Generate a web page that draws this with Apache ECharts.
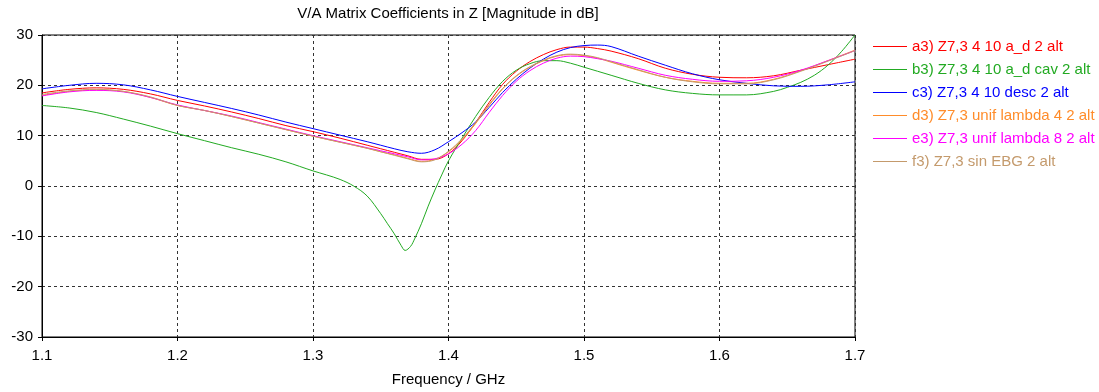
<!DOCTYPE html>
<html>
<head>
<meta charset="utf-8">
<title>V/A Matrix Coefficients in Z</title>
<script src="https://cdn.jsdelivr.net/npm/echarts@6/dist/echarts.min.js"></script>
<style>
  html, body { margin: 0; padding: 0; background: #fff; }
  #chart { width: 1099px; height: 392px; }
</style>
</head>
<body>
<div id="chart"></div>
<script>
// Frequency samples (GHz) shared by most traces
const freqs = [1.10, 1.12, 1.14, 1.16, 1.18, 1.20, 1.22, 1.24, 1.26, 1.28, 1.30, 1.32, 1.34, 1.35, 1.36, 1.37, 1.38, 1.39,
  1.40, 1.41, 1.42, 1.43, 1.44, 1.45, 1.46, 1.47, 1.48, 1.49, 1.50, 1.51, 1.52, 1.54, 1.56, 1.58, 1.60, 1.62, 1.64, 1.66, 1.68, 1.70];

// Finer sampling for the cavity trace with its sharp notch
const freqsCav = [1.10, 1.12, 1.14, 1.16, 1.18, 1.20, 1.22, 1.24, 1.26, 1.28, 1.30, 1.31, 1.32, 1.33, 1.34, 1.35, 1.355, 1.36,
  1.365, 1.368, 1.372, 1.375, 1.38, 1.385, 1.39, 1.395, 1.40, 1.41, 1.42, 1.43, 1.44, 1.45, 1.46, 1.47, 1.48, 1.49, 1.50,
  1.52, 1.54, 1.56, 1.58, 1.60, 1.62, 1.64, 1.65, 1.66, 1.67, 1.68, 1.69, 1.70];

// Magnitudes in dB
const a3 = [18.5, 19.2, 19.5, 19.2, 18.3, 17.0, 15.9, 14.7, 13.4, 12.0, 10.8, 9.5, 8.1, 7.4, 6.7, 6.0, 5.3, 5.3,
  6.4, 9.0, 12.6, 16.6, 20.2, 22.8, 24.7, 26.1, 27.1, 27.6, 27.6, 27.3, 26.8, 25.3, 23.4, 22.2, 21.6, 21.5, 21.9, 23.0, 24.1, 25.2];

const b3 = [16.0, 15.5, 14.6, 13.3, 11.9, 10.4, 9.0, 7.6, 6.3, 4.8, 3.0, 2.2, 1.3, 0.0, -2.0, -5.5, -7.5, -9.5,
  -11.8, -12.8, -12.0, -10.5, -7.5, -4.0, -0.8, 2.2, 5.0, 9.5, 13.8, 17.6, 20.8, 23.0, 24.3, 24.9, 24.9, 24.4, 23.6,
  22.0, 20.4, 19.1, 18.4, 18.1, 18.1, 18.8, 19.6, 20.6, 22.0, 24.0, 26.7, 30.0];

const c3 = [19.3, 20.0, 20.4, 20.1, 19.1, 17.8, 16.6, 15.4, 14.1, 12.7, 11.4, 10.1, 8.8, 8.1, 7.4, 6.8, 6.5, 7.2,
  8.8, 10.6, 12.7, 15.6, 18.6, 21.2, 23.4, 25.2, 26.6, 27.5, 27.9, 28.0, 27.7, 25.8, 24.0, 22.3, 21.1, 20.4, 19.9, 19.8, 20.1, 20.7];

const d3 = [18.0, 18.8, 19.1, 18.8, 17.6, 16.0, 15.0, 13.8, 12.5, 11.2, 9.9, 8.7, 7.5, 6.8, 6.2, 5.5, 4.9, 5.3,
  6.8, 9.2, 12.4, 16.0, 19.3, 21.8, 23.6, 24.9, 25.8, 26.1, 25.9, 25.4, 24.6, 23.0, 21.6, 20.8, 20.4, 20.4, 21.2, 22.9, 24.9, 27.0];

const e3 = [17.9, 18.7, 19.0, 18.7, 17.6, 16.1, 15.0, 13.9, 12.6, 11.3, 10.0, 8.8, 7.6, 7.0, 6.4, 5.8, 5.2, 5.4,
  6.4, 8.3, 11.0, 14.6, 18.0, 20.8, 22.9, 24.4, 25.4, 25.8, 25.7, 25.3, 24.8, 23.4, 22.0, 21.2, 20.8, 20.9, 21.6, 23.0, 24.9, 26.9];

const f3 = [18.2, 18.9, 19.2, 18.8, 17.7, 16.0, 15.0, 13.8, 12.5, 11.2, 9.9, 8.7, 7.5, 6.8, 6.1, 5.4, 4.8, 5.2,
  6.9, 9.4, 12.6, 16.2, 19.4, 21.9, 23.7, 25.0, 25.9, 26.2, 26.0, 25.5, 24.7, 23.1, 21.6, 20.7, 20.3, 20.3, 21.1, 22.8, 24.8, 26.9];

const seriesNames = [
  'a3) Z7,3 4 10 a_d 2 alt',
  'b3) Z7,3 4 10 a_d cav 2 alt',
  'c3) Z7,3 4 10 desc 2 alt',
  'd3) Z7,3 unif lambda 4 2 alt',
  'e3) Z7,3 unif lambda 8 2 alt',
  'f3) Z7,3 sin EBG 2 alt'
];
const seriesColors = ['#ff0000', '#22aa22', '#0000ff', '#ff8c2a', '#ff00ff', '#c49a6c'];
const seriesData = [
  [freqs, a3], [freqsCav, b3], [freqs, c3], [freqs, d3], [freqs, e3], [freqs, f3]
];

const FONT = 'Liberation Sans, Arial, sans-serif';
const FS = 15;

const chart = echarts.init(document.getElementById('chart'), null, { renderer: 'canvas' });

const series = seriesNames.map((name, i) => ({
  name: name,
  type: 'line',
  data: seriesData[i][0].map((f, k) => [f, seriesData[i][1][k]]),
  showSymbol: false,
  smooth: 0.35,
  lineStyle: { width: 1, color: seriesColors[i] },
  itemStyle: { color: seriesColors[i] },
  emphasis: { disabled: true },
  animation: false,
  z: 2 + i
}));

chart.setOption({
  animation: false,
  backgroundColor: '#ffffff',
  title: {
    text: 'V/A Matrix Coefficients in Z [Magnitude in dB]',
    left: 448,
    top: 6,
    padding: 0,
    textAlign: 'center',
    textStyle: { fontFamily: FONT, fontSize: FS, fontWeight: 'normal', color: '#000' }
  },
  legend: {
    orient: 'vertical',
    left: 873,
    top: 39,
    padding: 0,
    itemWidth: 34,
    itemHeight: 1,
    itemGap: 8,
    icon: 'rect',
    textStyle: { fontFamily: FONT, fontSize: FS, lineHeight: 15 },
    data: seriesNames.map((n, i) => ({
      name: n,
      itemStyle: { color: seriesColors[i] },
      textStyle: { color: seriesColors[i] }
    })),
    selectedMode: false
  },
  grid: {
    left: 42,
    right: 244,
    top: 35,
    bottom: 54,
    show: true,
    borderColor: '#000',
    borderWidth: 1,
    backgroundColor: '#fff'
  },
  xAxis: {
    type: 'value',
    min: 1.1,
    max: 1.7,
    interval: 0.1,
    name: 'Frequency / GHz',
    nameLocation: 'middle',
    nameGap: 35,
    nameTextStyle: { fontFamily: FONT, fontSize: FS, color: '#000' },
    axisLine: { show: true, onZero: false, lineStyle: { color: '#000', width: 1 } },
    axisTick: { show: true, length: 4, inside: false, lineStyle: { color: '#000' } },
    axisLabel: {
      fontFamily: FONT, fontSize: FS, color: '#000', margin: 11,
      formatter: v => v.toFixed(1)
    },
    splitLine: { show: true, lineStyle: { color: '#333', width: 1, type: [3, 3] } }
  },
  yAxis: {
    type: 'value',
    min: -30,
    max: 30,
    interval: 10,
    axisLine: { show: true, onZero: false, lineStyle: { color: '#000', width: 1 } },
    axisTick: { show: true, length: 4, inside: false, lineStyle: { color: '#000' } },
    axisLabel: { fontFamily: FONT, fontSize: FS, color: '#000', margin: 9 },
    splitLine: { show: true, lineStyle: { color: '#333', width: 1, type: [3, 3] } }
  },
  tooltip: { show: false },
  series: series
});
</script>
</body>
</html>
